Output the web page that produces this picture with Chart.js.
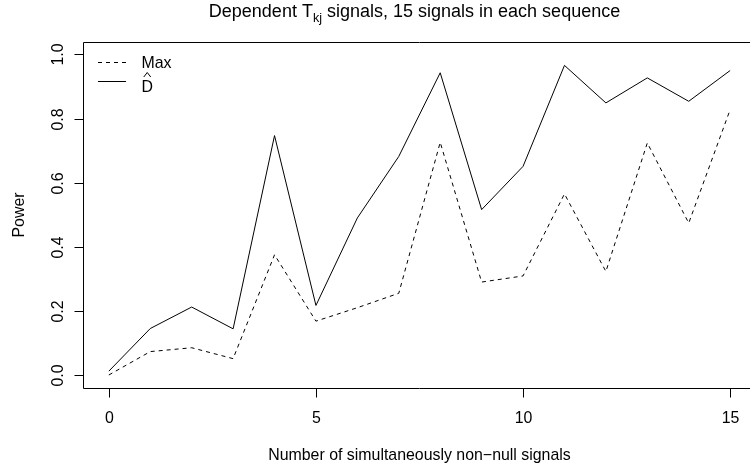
<!DOCTYPE html>
<html>
<head>
<meta charset="utf-8">
<script src="https://cdn.jsdelivr.net/npm/chart.js@4/dist/chart.umd.min.js"></script>
<style>
html,body{margin:0;padding:0;background:#fff;overflow:hidden;width:750px;height:471px;}
canvas{display:block;}
</style>
</head>
<body>
<canvas id="c" width="760" height="471"></canvas>
<script>
// ---- data ----
const nSignals = [0,1,2,3,4,5,6,7,8,9,10,11,12,13,14,15];
const powerMax = [0.000,0.073,0.085,0.051,0.375,0.168,0.210,0.255,0.726,0.290,0.309,0.565,0.323,0.724,0.474,0.828];
const powerDhat = [0.012,0.145,0.212,0.144,0.747,0.217,0.490,0.682,0.943,0.516,0.651,0.966,0.849,0.927,0.854,0.950];
const xTicks = [0,5,10,15];
const yTicks = [0.0,0.2,0.4,0.6,0.8,1.0];
const titleMain = "Dependent T";
const titleSub = "kj";
const titleRest = " signals, 15 signals in each sequence";
const xTitle = "Number of simultaneously non\u2212null signals";
const yTitle = "Power";
const legendLabels = ["Max", "D"];

const FONT = '"Liberation Sans", Arial, Helvetica, sans-serif';
const AX = 15.9;
const TT = 18;
const DIGC = 0.358; // half digit height (em)

const rAxes = {
  id: 'rAxes',
  afterDraw(chart) {
    const ctx = chart.ctx;
    const a = chart.chartArea;
    const xs = chart.scales.x, ys = chart.scales.y;
    ctx.save();
    ctx.strokeStyle = '#000';
    ctx.fillStyle = '#000';
    ctx.lineWidth = 1;
    ctx.setLineDash([]);
    // box
    const L = Math.round(a.left) - 0.5, R = Math.round(a.right) + 0.5;
    const T = Math.round(a.top) + 0.5, B = Math.round(a.bottom) + 0.5;
    ctx.beginPath();
    ctx.rect(L, T, R - L, B - T);
    ctx.stroke();
    // x ticks
    ctx.font = AX + 'px ' + FONT;
    ctx.textAlign = 'center';
    ctx.textBaseline = 'alphabetic';
    xTicks.forEach(v => {
      const px = Math.round(xs.getPixelForValue(v)) + 0.5;
      ctx.beginPath(); ctx.moveTo(px, B); ctx.lineTo(px, B + 9); ctx.stroke();
      ctx.fillText(String(v), px, 417.5 + DIGC * AX);
    });
    // y ticks
    yTicks.forEach(v => {
      const py = Math.round(ys.getPixelForValue(v)) + 0.5;
      ctx.beginPath(); ctx.moveTo(L, py); ctx.lineTo(L - 9, py); ctx.stroke();
      ctx.save();
      ctx.translate(57.5 + DIGC * AX, py);
      ctx.rotate(-Math.PI / 2);
      ctx.fillText(v.toFixed(1), 0, 0);
      ctx.restore();
    });
    // axis titles
    const cx = (a.left + a.right) / 2;
    ctx.fillText(xTitle, cx, 459.5);
    ctx.save();
    ctx.translate(24, (a.top + a.bottom) / 2);
    ctx.rotate(-Math.PI / 2);
    ctx.fillText(yTitle, 0, 0);
    ctx.restore();
    // main title with subscript
    ctx.textAlign = 'left';
    const fMain = TT + 'px ' + FONT, fSub = (TT * 0.7) + 'px ' + FONT;
    ctx.font = fMain;
    const w1 = ctx.measureText(titleMain).width;
    const w3 = ctx.measureText(titleRest).width;
    ctx.font = fSub;
    const w2 = ctx.measureText(titleSub).width;
    let tx = cx - (w1 + w2 + w3) / 2 - 5;
    const tb = 17;
    ctx.font = fMain; ctx.fillText(titleMain, tx, tb); tx += w1;
    ctx.font = fSub; ctx.fillText(titleSub, tx, tb + 4.5); tx += w2;
    ctx.font = fMain; ctx.fillText(titleRest, tx, tb);
    // legend
    ctx.font = AX + 'px ' + FONT;
    const ly = [62.5, 81.5];
    const dashes = [[4, 4], []];
    for (let i = 0; i < 2; i++) {
      ctx.setLineDash(dashes[i]);
      ctx.beginPath(); ctx.moveTo(98, ly[i]); ctx.lineTo(126, ly[i]); ctx.stroke();
    }
    ctx.setLineDash([]);
    ctx.fillText(legendLabels[0], 141.5, 62.7 + DIGC * AX);
    ctx.fillText(legendLabels[1], 141.5, 92);
    const dw = ctx.measureText(legendLabels[1]).width;
    // hat over D
    const hc = 141.5 + dw / 2;
    ctx.beginPath();
    ctx.moveTo(hc - 3.5, 77); ctx.lineTo(hc, 72.5); ctx.lineTo(hc + 3.5, 77);
    ctx.stroke();
    ctx.restore();
  }
};

new Chart(document.getElementById('c'), {
  type: 'line',
  data: {
    datasets: [
      {
        label: 'Max',
        data: nSignals.map((n, i) => ({x: n, y: powerMax[i]})),
        borderColor: '#000', borderWidth: 1, borderDash: [4, 4],
        pointRadius: 0, tension: 0, fill: false
      },
      {
        label: 'D\u0302',
        data: nSignals.map((n, i) => ({x: n, y: powerDhat[i]})),
        borderColor: '#000', borderWidth: 1,
        pointRadius: 0, tension: 0, fill: false
      }
    ]
  },
  options: {
    responsive: false,
    animation: false,
    devicePixelRatio: 1,
    layout: { padding: { left: 84, right: 5, top: 42, bottom: 83 } },
    plugins: { legend: { display: false }, tooltip: { enabled: false }, title: { display: false } },
    scales: {
      x: { type: 'linear', min: -0.6, max: 15.6, display: false },
      y: { type: 'linear', min: -0.0406, max: 1.039, display: false }
    }
  },
  plugins: [rAxes]
});
</script>
</body>
</html>
